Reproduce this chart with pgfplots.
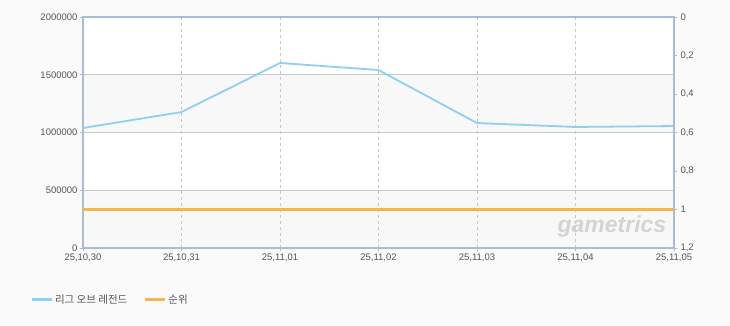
\documentclass[border=0pt]{standalone}
\usepackage{pgfplots}
\pgfplotsset{compat=1.18}
\usepackage{fontspec}
\setmainfont{Liberation Sans}
\newfontfamily\kr{Noto Sans CJK KR}
\definecolor{frame}{HTML}{A9BCD3}
\definecolor{lolc}{HTML}{8DD0F2}
\definecolor{rankc}{HTML}{F7B550}
\definecolor{bg}{HTML}{FAFAFA}
\definecolor{band}{HTML}{F8F8F8}
\definecolor{txt}{HTML}{555555}
\definecolor{gridc}{HTML}{C8C8C8}
\begin{document}
\begin{tikzpicture}
\fill[bg] (-83pt,-77pt) rectangle (647pt,248pt);
\fill[white] (0pt,0pt) rectangle (591pt,231pt);
\fill[band] (0pt,0pt) rectangle (591pt,57.75pt);
\fill[band] (0pt,115.5pt) rectangle (591pt,173.25pt);
\begin{axis}[
  name=ax1,
  at={(0pt,0pt)}, anchor=south west, scale only axis,
  width=591pt, height=231pt,
  xmin=0, xmax=6, ymin=0, ymax=2000000,
  xtick={0,1,2,3,4,5,6},
  xticklabels={25{,}10{,}30,25{,}10{,}31,25{,}11{,}01,25{,}11{,}02,25{,}11{,}03,25{,}11{,}04,25{,}11{,}05},
  ytick={0,500000,1000000,1500000,2000000},
  yticklabels={0,500000,1000000,1500000,2000000},
  scaled y ticks=false,
  tick label style={font=\fontsize{9.5}{10}\selectfont, text=txt},
  xticklabel style={yshift=1pt},
  yticklabel style={xshift=1pt},
  axis line style={draw=frame, line width=1.3pt},
  major tick length=3pt,
  tick style={draw=frame, line width=0.8pt},
  tick align=outside,
  xtick pos=bottom, ytick pos=left,
  ymajorgrids, xmajorgrids,
  x grid style={dashed, draw=gridc, line width=0.6pt},
  y grid style={solid, draw=gridc, line width=0.6pt},
  clip=false,
  legend columns=2,
  legend style={at={(rel axis cs:-0.095,-0.225)}, anchor=west, draw=none, fill=none,
    font=\kr\fontsize{10.5}{12}\selectfont, text=txt,
    /tikz/every even column/.append style={column sep=14pt}},
  legend image code/.code={\draw[#1, line width=3pt] (0pt,0pt) -- (20pt,0pt);},
]
\node[font=\fontsize{23}{23}\selectfont\bfseries\itshape, text=black!17] at (axis cs:5.37,182000) {gametrics};
\addplot[draw=lolc, line width=1.8pt] coordinates {
  (0,1039000) (1,1177000) (2,1602000) (3,1541000) (4,1082000) (5,1048000) (6,1056000)
};
\addlegendentry{리그 오브 레전드}
\addlegendimage{draw=rankc}
\addlegendentry{순위}
\end{axis}
\begin{axis}[
  at={(ax1.south west)}, anchor=south west, scale only axis,
  width=591pt, height=231pt,
  xmin=0, xmax=6, ymin=0, ymax=1.2, y dir=reverse,
  axis y line*=right, axis x line=none,
  ytick={0,0.2,0.4,0.6,0.8,1,1.2},
  yticklabels={0,{0,2},{0,4},{0,6},{0,8},1,{1,2}},
  tick label style={font=\fontsize{9.5}{10}\selectfont, text=txt},
  axis line style={draw=frame, line width=1.3pt},
  major tick length=3pt,
  tick style={draw=frame, line width=0.8pt},
  tick align=outside,
]
\addplot[draw=rankc, line width=2.2pt] coordinates {
  (0,1) (1,1) (2,1) (3,1) (4,1) (5,1) (6,1)
};
\end{axis}
\end{tikzpicture}
\end{document}
